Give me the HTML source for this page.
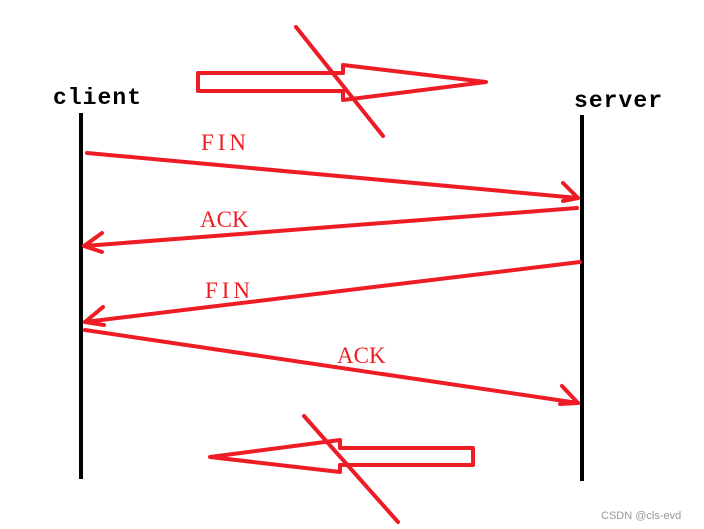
<!DOCTYPE html>
<html><head><style>
html,body{margin:0;padding:0;background:#fff;width:704px;height:529px;overflow:hidden}
svg{display:block}
</style></head><body>
<svg width="704" height="529" viewBox="0 0 704 529" xmlns="http://www.w3.org/2000/svg">
<g stroke="#000" stroke-width="4"><line x1="81" y1="113" x2="81" y2="479"/><line x1="582" y1="115" x2="582" y2="481"/></g>
<text x="53" y="104" font-family="Liberation Mono, monospace" font-size="23" font-weight="bold" textLength="88" fill="#000">client</text>
<text x="574" y="107" font-family="Liberation Mono, monospace" font-size="23" font-weight="bold" textLength="88" fill="#000">server</text>
<g stroke="#ee1c25" stroke-width="4" fill="none" stroke-linecap="round" stroke-linejoin="round">
<polyline points="343,73 198,73 198,91 343,91"/>
<polyline points="343,73 343,65 486,82 343,100 343,91"/>
<line x1="296" y1="27" x2="383" y2="136"/>
<polyline points="340,448 473,448 473,465 340,465"/>
<polyline points="340,448 340,440 210,457 340,472 340,465"/>
<line x1="304" y1="416" x2="398" y2="522"/>
<line x1="87" y1="153" x2="578" y2="198"/><polyline points="563,183 578,198 563,201"/>
<line x1="577" y1="208" x2="84" y2="246"/><polyline points="102,233 84,246 102,252"/>
<line x1="580" y1="262" x2="85" y2="322"/><polyline points="103,307 85,322 104,325"/>
<line x1="85" y1="330" x2="578" y2="403"/><polyline points="562,386 578,403 560,404"/>
</g>
<g font-family="Liberation Serif, serif" font-size="23" fill="#ee1c25">
<text x="201" y="150" textLength="45">FIN</text>
<text x="200" y="227">ACK</text>
<text x="205" y="298" textLength="45">FIN</text>
<text x="337" y="363">ACK</text>
</g>
<text x="601" y="519" font-family="Liberation Sans, sans-serif" font-size="11" fill="#999">CSDN @cls-evd</text>
</svg>
</body></html>
